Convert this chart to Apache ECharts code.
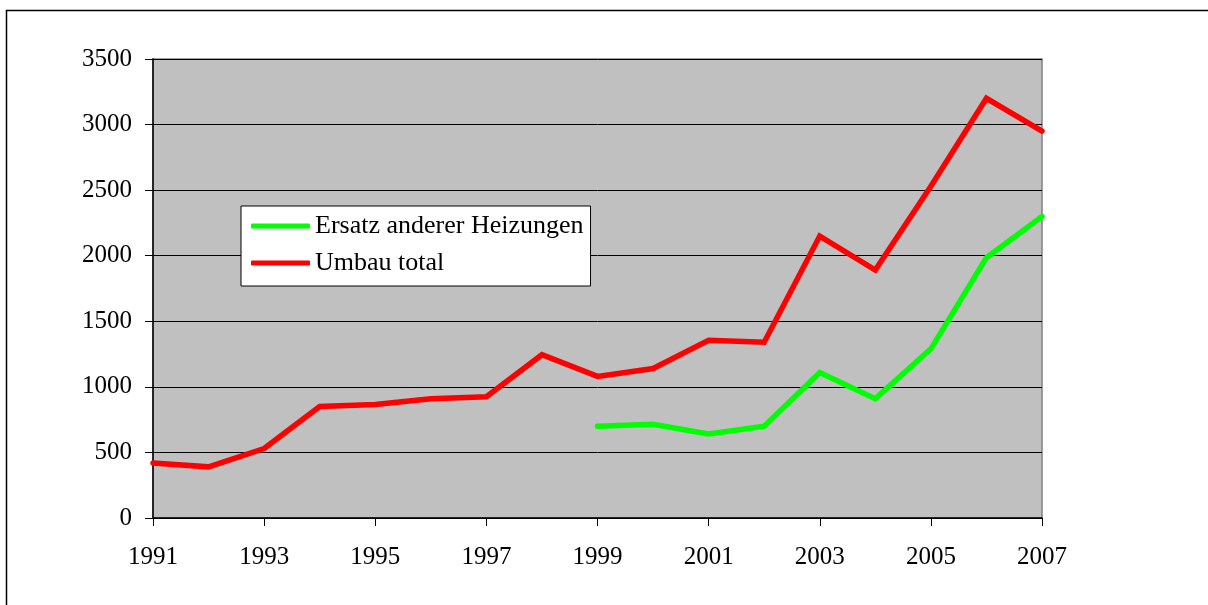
<!DOCTYPE html>
<html>
<head>
<meta charset="utf-8">
<script src="https://cdn.jsdelivr.net/npm/echarts@6/dist/echarts.min.js"></script>
<style>
html,body{margin:0;padding:0;background:#fff;}
#chart{width:1208px;height:605px;}
</style>
</head>
<body>
<div id="chart"></div>
<script>
const years = ['1991','1992','1993','1994','1995','1996','1997','1998','1999','2000','2001','2002','2003','2004','2005','2006','2007'];
const ersatzName = 'Ersatz anderer Heizungen';
const umbauName = 'Umbau total';
const ersatz = [null,null,null,null,null,null,null,null,700,715,640,700,1110,910,1290,1985,2300];
const umbau = [420,390,530,850,865,910,925,1245,1080,1140,1355,1340,2150,1890,2530,3200,2950];
const yTicks = [0,500,1000,1500,2000,2500,3000,3500];

const FONT = '"Liberation Serif", "Times New Roman", serif';
const chart = echarts.init(document.getElementById('chart'), null, {renderer:'canvas'});
chart.setOption({
  animation:false,
  backgroundColor:'#ffffff',
  graphic:[{
    type:'polyline', silent:true,
    shape:{points:[[6.5,700],[6.5,10.5],[1300,10.5]]},
    style:{stroke:'#000', lineWidth:1.5, fill:null}
  }],
  grid:{left:153, top:59, width:889, height:459, show:true, backgroundColor:'#c0c0c0', borderColor:'#808080', borderWidth:1.5},
  legend:{
    left:241, top:206, orient:'vertical',
    data:[ersatzName, umbauName],
    icon:'roundRect', itemWidth:59, itemHeight:5, itemGap:9,
    backgroundColor:'#ffffff', borderColor:'#000', borderWidth:1,
    padding:[6,7,9,10],
    textStyle:{fontFamily:FONT, fontSize:26, color:'#000', lineHeight:28}
  },
  xAxis:{
    type:'category', data:years, boundaryGap:false,
    axisLine:{lineStyle:{color:'#000', width:1.5}},
    axisTick:{show:true, length:8, interval:1, lineStyle:{color:'#000'}},
    axisLabel:{interval:1, margin:27, fontFamily:FONT, fontSize:25, color:'#000'},
    splitLine:{show:false}
  },
  yAxis:{
    type:'value', min:yTicks[0], max:yTicks[yTicks.length-1], interval:500,
    axisLine:{show:true, lineStyle:{color:'#000', width:1.5}},
    axisTick:{show:true, length:8, lineStyle:{color:'#000'}},
    axisLabel:{margin:21, fontFamily:FONT, fontSize:25, color:'#000', formatter:function(v){return String(v);}},
    splitLine:{show:true, lineStyle:{color:'#000', width:1}}
  },
  series:[
    {name:ersatzName, type:'line', data:ersatz, symbol:'none', connectNulls:false,
     lineStyle:{color:'#00ff00', width:5.5, cap:'round', join:'miter'}, itemStyle:{color:'#00ff00'}},
    {name:umbauName, type:'line', data:umbau, symbol:'none',
     lineStyle:{color:'#ff0000', width:5.5, cap:'round', join:'miter'}, itemStyle:{color:'#ff0000'}}
  ]
});
</script>
</body>
</html>
